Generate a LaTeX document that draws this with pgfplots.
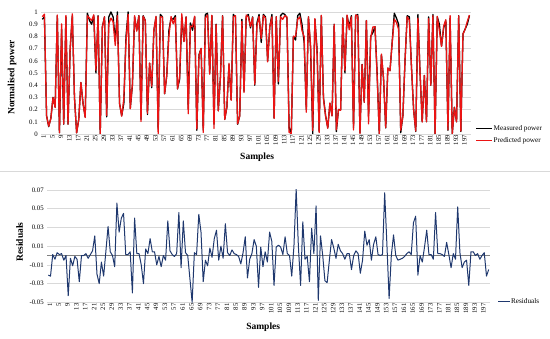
\documentclass[border=0pt]{standalone}
\usepackage{pgfplots}
\pgfplotsset{compat=1.18}
\usepackage{pgfplotstable}
\usepackage{fontspec}
\setmainfont{Liberation Serif}
\definecolor{navyres}{RGB}{31,56,110}
\definecolor{gridc}{RGB}{217,217,217}
\definecolor{zeroc}{RGB}{128,128,128}
\definecolor{predred}{RGB}{235,20,20}

\pgfplotstableread{
x M P
1 0.94 0.961
2 0.96 0.982
3 0.15 0.149
4 0.06 0.064
5 0.13 0.127
6 0.30 0.299
7 0.22 0.218
8 0.97 0.975
9 0.01 0.010
10 0.86 0.903
11 0.08 0.083
12 0.96 0.971
13 0.08 0.081
14 0.70 0.704
15 0.97 0.985
16 0.30 0.300
17 0.01 0.010
18 0.12 0.118
19 0.42 0.423
20 0.25 0.249
21 0.14 0.135
22 0.99 0.969
23 0.93 0.950
24 0.90 0.930
25 0.97 0.977
26 0.50 0.522
27 0.97 0.966
28 0.00 0.000
29 0.88 0.876
30 0.96 0.960
31 0.14 0.152
32 0.96 0.904
33 1.00 0.950
34 0.96 0.920
35 0.77 0.725
36 1.00 0.970
37 0.25 0.249
38 0.15 0.146
39 0.25 0.290
40 0.80 0.760
41 1.00 0.980
42 0.21 0.208
43 0.40 0.410
44 0.96 0.970
45 0.85 0.843
46 0.97 0.968
47 0.12 0.102
48 0.97 0.966
49 0.93 0.926
50 0.16 0.170
51 0.58 0.581
52 0.38 0.392
53 0.85 0.850
54 0.96 0.965
55 0.04 0.003
56 0.98 0.960
57 0.96 0.959
58 0.33 0.331
59 0.48 0.478
60 0.85 0.804
61 0.95 0.963
62 0.94 0.903
63 0.97 0.955
64 0.37 0.370
65 0.45 0.475
66 0.96 0.985
67 0.76 0.757
68 0.96 0.959
69 0.21 0.166
70 0.91 0.885
71 0.85 0.878
72 0.96 0.965
73 0.03 0.041
74 0.65 0.642
75 0.70 0.702
76 0.03 0.012
77 0.98 0.953
78 0.99 0.975
79 0.50 0.490
80 0.97 0.973
81 0.08 0.046
82 0.90 0.897
83 0.19 0.190
84 0.47 0.464
85 0.97 0.968
86 0.12 0.119
87 0.22 0.221
88 0.57 0.579
89 0.28 0.277
90 0.98 0.960
91 0.96 0.970
92 0.08 0.084
93 0.15 0.148
94 0.94 0.923
95 0.35 0.340
96 0.96 0.975
97 0.98 0.960
98 0.87 0.882
99 0.96 0.956
100 0.40 0.407
101 0.91 0.885
102 0.98 0.965
103 0.75 0.782
104 0.98 0.971
105 0.96 0.949
106 0.60 0.591
107 0.88 0.879
108 0.98 0.960
109 0.13 0.128
110 0.96 0.960
111 0.41 0.432
112 0.97 0.960
113 0.99 0.940
114 0.98 0.970
115 0.95 0.960
116 0.05 0.014
117 0.00 0.004
118 0.80 0.801
119 0.77 0.798
120 0.97 0.941
121 0.99 0.960
122 0.90 0.847
123 0.75 0.798
124 0.20 0.179
125 0.96 0.960
126 0.70 0.727
127 0.00 0.029
128 0.94 0.945
129 0.70 0.683
130 0.02 0.012
131 0.97 0.973
132 0.30 0.288
133 0.15 0.145
134 0.05 0.048
135 0.25 0.254
136 0.15 0.148
137 0.90 0.898
138 0.02 0.035
139 0.20 0.200
140 0.20 0.195
141 0.95 0.948
142 0.50 0.519
143 0.97 0.975
144 0.88 0.854
145 0.97 0.959
146 0.05 0.033
147 0.97 0.975
148 0.98 0.968
149 0.01 0.000
150 0.57 0.569
151 0.26 0.260
152 0.93 0.929
153 0.15 0.083
154 0.80 0.788
155 0.83 0.876
156 0.88 0.880
157 0.50 0.478
158 0.00 0.000
159 0.65 0.655
160 0.45 0.454
161 0.05 0.053
162 0.54 0.541
163 0.52 0.518
164 0.75 0.746
165 0.99 0.940
166 0.95 0.915
167 0.90 0.858
168 0.01 0.031
169 0.15 0.150
170 0.60 0.607
171 0.97 0.961
172 0.96 0.933
173 0.55 0.549
174 0.20 0.199
175 0.02 0.024
176 0.98 0.950
177 0.50 0.498
178 0.10 0.098
179 0.48 0.479
180 0.10 0.101
181 0.96 0.946
182 0.40 0.399
183 0.98 0.970
184 0.00 0.000
185 0.96 0.964
186 0.90 0.848
187 0.72 0.717
188 0.87 0.883
189 0.93 0.937
190 0.03 0.035
191 0.95 0.970
192 0.00 0.000
193 0.22 0.216
194 0.10 0.100
195 0.97 0.968
196 0.02 0.024
197 0.82 0.820
198 0.86 0.857
199 0.90 0.922
200 0.97 0.975
}\toptable

\pgfplotstableread{
x R
1 -0.021
2 -0.022
3 0.001
4 -0.004
5 0.003
6 0.001
7 0.002
8 -0.005
9 0.000
10 -0.043
11 -0.003
12 -0.011
13 -0.001
14 -0.004
15 -0.028
16 0.000
17 0.000
18 0.002
19 -0.003
20 0.001
21 0.005
22 0.021
23 -0.020
24 -0.030
25 -0.007
26 -0.022
27 0.004
28 0.031
29 0.004
30 0.000
31 -0.012
32 0.056
33 0.025
34 0.040
35 0.045
36 0.001
37 0.001
38 0.004
39 -0.040
40 0.040
41 0.002
42 0.002
43 -0.010
44 -0.030
45 0.007
46 0.002
47 0.018
48 0.004
49 0.004
50 -0.010
51 -0.001
52 -0.012
53 0.000
54 -0.005
55 0.037
56 0.005
57 0.001
58 -0.001
59 0.002
60 0.046
61 -0.013
62 0.037
63 0.003
64 0.000
65 -0.025
66 -0.050
67 0.003
68 0.001
69 0.044
70 0.025
71 -0.028
72 -0.005
73 -0.011
74 0.008
75 -0.002
76 0.018
77 0.027
78 -0.005
79 0.010
80 -0.003
81 0.034
82 0.003
83 0.000
84 0.006
85 0.002
86 0.001
87 -0.001
88 -0.009
89 0.003
90 0.020
91 -0.024
92 -0.004
93 0.002
94 0.017
95 0.010
96 -0.034
97 0.009
98 -0.012
99 0.004
100 -0.007
101 0.025
102 0.015
103 -0.032
104 0.009
105 0.011
106 0.009
107 0.001
108 0.020
109 0.002
110 0.000
111 -0.022
112 0.010
113 0.071
114 0.010
115 -0.032
116 0.036
117 -0.004
118 -0.001
119 -0.028
120 0.029
121 0.002
122 0.053
123 -0.048
124 0.021
125 0.000
126 -0.027
127 -0.029
128 -0.005
129 0.017
130 0.008
131 -0.003
132 0.012
133 0.005
134 0.002
135 -0.004
136 0.002
137 0.002
138 -0.015
139 0.000
140 0.005
141 0.002
142 -0.019
143 -0.005
144 0.026
145 0.011
146 0.017
147 -0.005
148 0.012
149 0.020
150 0.001
151 0.000
152 0.001
153 0.067
154 0.012
155 -0.046
156 0.000
157 0.022
158 0.000
159 -0.005
160 -0.004
161 -0.003
162 -0.001
163 0.002
164 0.004
165 0.001
166 0.035
167 0.042
168 -0.021
169 0.000
170 -0.007
171 0.009
172 0.027
173 0.001
174 0.001
175 -0.004
176 0.046
177 0.002
178 0.002
179 0.001
180 -0.001
181 0.014
182 0.001
183 -0.013
184 0.002
185 -0.004
186 0.052
187 0.003
188 -0.013
189 -0.007
190 -0.005
191 -0.032
192 0.004
193 0.004
194 0.000
195 0.002
196 -0.004
197 0.000
198 0.003
199 -0.022
200 -0.015
}\restable

\pgfplotsset{
  common/.style={
    scale only axis,
    axis line style={draw=none},
    major tick length=0pt,
    xmin=0.5, xmax=200.5,
    xtick={1,5,...,197},
    ymajorgrids,
    grid style={gridc, line width=0.6pt},
    xticklabel style={rotate=90, anchor=east, font=\fontsize{6.7}{7}\selectfont, inner sep=1pt, yshift=-1.5pt},
    /pgf/number format/assume math mode=true,
    scaled y ticks=false,
    label style={font=\fontsize{9.5}{10}\selectfont\bfseries},
    legend cell align=left,
    legend style={draw=none, fill=none, inner sep=0pt, font=\fontsize{7.2}{8}\selectfont,
      row sep=4pt, nodes={inner sep=0.6pt, anchor=west}},
  }
}

\begin{document}
\begin{tikzpicture}
\useasboundingbox (0,0) rectangle (550pt,339pt);
\draw[gridc, line width=0.6pt] (0pt,167.3pt) -- (550pt,167.3pt);

\begin{axis}[common,
  at={(41.2pt,205pt)}, anchor=south west,
  width=429.3pt, height=122pt,
  ymin=0, ymax=1,
  ytick={0,0.1,...,1},
  yticklabel style={font=\fontsize{6.8}{7}\selectfont, /pgf/number format/fixed, /pgf/number format/precision=1},
  xlabel={Samples},
  ylabel={Normalised power},
  xlabel style={at={(axis description cs:0.503,-0.19)}, anchor=center},
  ylabel style={at={(axis description cs:-0.068,0.463)}, anchor=center},
  legend style={at={(axis description cs:1.012,-0.004)}, anchor=west},
  legend image code/.code={\draw[#1, line width=1.3pt] (0pt,0pt) -- (16pt,0pt);},
]
\addplot[black, line width=1.3pt, line join=round] table[x=x, y=M] {\toptable};
\addlegendentry{Measured power}
\addplot[predred, line width=1.3pt, line join=round] table[x=x, y=P] {\toptable};
\addlegendentry{Predicted power}
\end{axis}

\begin{axis}[common,
  at={(47.2pt,36.7pt)}, anchor=south west,
  width=442.6pt, height=112.3pt,
  ymin=-0.05, ymax=0.07,
  ytick={-0.05,-0.03,-0.01,0.01,0.03,0.05,0.07},
  yticklabel style={font=\fontsize{6.8}{7}\selectfont, /pgf/number format/fixed, /pgf/number format/fixed zerofill, /pgf/number format/precision=2},
  extra y ticks={0},
  extra y tick labels={},
  extra y tick style={grid style={zeroc, line width=0.8pt}},
  xlabel={Samples},
  ylabel={Residuals},
  xlabel style={at={(axis description cs:0.488,-0.223)}, anchor=center},
  ylabel style={at={(axis description cs:-0.062,0.537)}, anchor=center},
  legend style={at={(axis description cs:1.017,0.005)}, anchor=west},
  legend image code/.code={\draw[#1, line width=1pt] (0pt,0pt) -- (12pt,0pt);},
]
\addplot[navyres, line width=1pt, line join=round] table[x=x, y=R] {\restable};
\addlegendentry{Residuals}
\end{axis}
\end{tikzpicture}
\end{document}
